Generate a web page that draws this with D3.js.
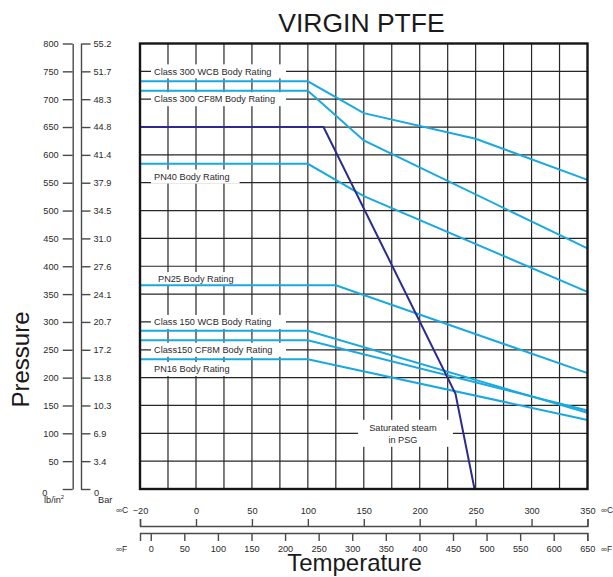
<!DOCTYPE html>
<html>
<head>
<meta charset="utf-8">
<script src="https://cdn.jsdelivr.net/npm/d3@7"></script>
<style>
  html, body { margin: 0; padding: 0; background: #fff; }
  svg { display: block; font-family: "Liberation Sans", Arial, sans-serif; }
</style>
</head>
<body>
<svg id="chart" width="613" height="577"></svg>
<script>
// ---------------- data ----------------
const tempCTicks = [-20, 0, 50, 100, 150, 200, 250, 300, 350];
const tempFTicks = [0, 50, 100, 150, 200, 250, 300, 350, 400, 450, 500, 550, 600, 650];
const psiTicks = [0, 50, 100, 150, 200, 250, 300, 350, 400, 450, 500, 550, 600, 650, 700, 750, 800];
const barLabels = ["0", "3.4", "6.9", "10.3", "13.8", "17.2", "20.7", "24.1", "27.6",
                   "31.0", "34.5", "37.9", "41.4", "44.8", "48.3", "51.7", "55.2"];
const gridTempC = [-10, 0, 25, 50, 75, 100, 125, 150, 175, 200, 225, 250, 275, 300, 325];
const gridPsi = [50, 100, 150, 200, 250, 300, 350, 400, 450, 500, 550, 600, 650, 700, 750];

// series: [temperature °C, pressure psi]
const class300WCB  = [[-20, 732], [100, 732], [150, 675], [250, 629], [350, 555]];
const class300CF8M = [[-20, 715], [100, 715], [150, 626], [350, 432]];
const pn40         = [[-20, 584], [100, 584], [150, 526], [350, 354]];
const pn25         = [[-20, 366], [125, 366], [350, 208]];
const class150WCB  = [[-20, 284], [100, 284], [350, 137]];
const class150CF8M = [[-20, 267], [100, 267], [350, 141]];
const pn16         = [[-20, 233], [100, 233], [350, 124]];
const steamPSG     = [[-20, 650], [114, 650], [232, 171], [249, 0]];

const ratingSeries = [class300WCB, class300CF8M, pn40, pn25, class150WCB, class150CF8M, pn16];

// labels: text, anchor pressure (psi) for vertical position
const ratingLabels = [
  { text: "Class 300 WCB Body Rating", p: 750, wide: true },
  { text: "Class 300 CF8M Body Rating", p: 700, wide: true },
  { text: "PN40 Body Rating", p: 561, wide: false },
  { text: "PN25 Body Rating", p: 377, wide: false, dx: 4 },
  { text: "Class 150 WCB Body Rating", p: 300, wide: true },
  { text: "Class150 CF8M Body Rating", p: 250, wide: true },
  { text: "PN16 Body Rating", p: 215.5, wide: false }
];
const steamLabel = ["Saturated steam", "in PSG"];

// ---------------- layout ----------------
const L = 140, R = 587.5, T = 43.5, B = 489;
const svg = d3.select("#chart");

const xC = d3.scaleLinear().domain([-20, 0, 350]).range([L, 196, R]);
const xF = d3.scaleLinear().domain([-16, 650]).range([L, 587.3]);
const yP = d3.scaleLinear().domain([0, 800]).range([B, T]);

const LIGHT = "#19a9df", DARK = "#2d2a8e", GRID = "#262626", TXT = "#2a2a2a";

// grid
const g = svg.append("g");
g.selectAll("line.h").data(gridPsi).join("line")
  .attr("x1", L).attr("x2", R).attr("y1", d => yP(d)).attr("y2", d => yP(d))
  .attr("stroke", GRID).attr("stroke-width", 1.2);
g.selectAll("line.v").data(gridTempC).join("line")
  .attr("x1", d => xC(d)).attr("x2", d => xC(d)).attr("y1", T).attr("y2", B)
  .attr("stroke", GRID).attr("stroke-width", 1.2);

// label backgrounds + text
const lg = svg.append("g").attr("font-size", 9.2).attr("fill", TXT);
ratingLabels.forEach(lb => {
  const tx = 154 + (lb.dx || 0);
  const ty = yP(lb.p);
  const t = lg.append("text").attr("x", tx).attr("y", ty).attr("dy", "0.35em").text(lb.text);
  const w = t.node().getComputedTextLength();
  lg.insert("rect", "text")
    .attr("x", 151).attr("y", ty - 7)
    .attr("width", lb.wide ? 135 : (tx - 151) + w + 10).attr("height", 14)
    .attr("fill", "#fff");
});
// steam label
const sx = xC(185), sy = yP(100);
lg.append("rect").attr("x", sx - 45).attr("y", sy - 13.5).attr("width", 95).attr("height", 27).attr("fill", "#fff");
lg.append("text").attr("x", sx).attr("y", sy - 6).attr("dy", "0.35em").attr("text-anchor", "middle").text(steamLabel[0]);
lg.append("text").attr("x", sx).attr("y", sy + 6.5).attr("dy", "0.35em").attr("text-anchor", "middle").text(steamLabel[1]);

// series lines
const line = d3.line().x(d => xC(d[0])).y(d => yP(d[1]));
svg.append("g").selectAll("path").data(ratingSeries).join("path")
  .attr("d", line).attr("fill", "none").attr("stroke", LIGHT).attr("stroke-width", 2);
svg.append("path").datum(steamPSG).attr("d", line)
  .attr("fill", "none").attr("stroke", DARK).attr("stroke-width", 2);

// frame
svg.append("rect").attr("x", L).attr("y", T).attr("width", R - L).attr("height", B - T)
  .attr("fill", "none").attr("stroke", "#151515").attr("stroke-width", 2.4);

// ---------------- axes ----------------
function styleAxis(sel) {
  sel.selectAll("path, line").attr("stroke", "#4a4a4a").attr("stroke-width", 1.4);
  sel.selectAll("text").attr("fill", TXT).attr("font-size", 9.2)
     .attr("font-family", "Liberation Sans, Arial, sans-serif");
}
// psi axis
const ap = svg.append("g").attr("transform", "translate(72.7,0)")
  .call(d3.axisLeft(yP).tickValues(psiTicks).tickSize(10).tickSizeOuter(0).tickPadding(4));
styleAxis(ap);
ap.selectAll(".tick").filter(d => d === 0).select("text")
  .attr("x", -30.5).attr("dy", "0.75em").attr("text-anchor", "start");
// bar axis
const ab = svg.append("g").attr("transform", "translate(81,0)")
  .call(d3.axisRight(yP).tickValues(psiTicks).tickSize(9.5).tickSizeOuter(0).tickPadding(3)
        .tickFormat((d, i) => barLabels[i]));
styleAxis(ab);
ab.selectAll(".tick").filter(d => d === 0).select("text")
  .attr("x", 13).attr("dy", "0.7em");

// units under left axes
const ut = svg.append("g").attr("font-size", 9.2).attr("fill", TXT);
const lbt = ut.append("text").attr("x", 44).attr("y", 503);
lbt.append("tspan").text("lb/in");
lbt.append("tspan").attr("font-size", 6).attr("dy", -4).text("2");
ut.append("text").attr("x", 98).attr("y", 502.5).text("Bar");

// °C axis
const ac = svg.append("g").attr("transform", "translate(0,526)")
  .call(d3.axisTop(xC).tickValues(tempCTicks).tickSize(7).tickSizeOuter(7).tickPadding(5));
styleAxis(ac);
// °F axis
const af = svg.append("g").attr("transform", "translate(0,533)")
  .call(d3.axisBottom(xF).tickValues(tempFTicks).tickSize(8).tickSizeOuter(8).tickPadding(4));
styleAxis(af);

ut.append("text").attr("x", 116).attr("y", 510).attr("dy", "0.35em").attr("font-size", 8.5).text("∞C");
ut.append("text").attr("x", 116).attr("y", 549).attr("dy", "0.35em").attr("font-size", 8.5).text("∞F");
ut.append("text").attr("x", 601).attr("y", 510).attr("dy", "0.35em").attr("font-size", 8.5).text("∞C");
ut.append("text").attr("x", 601).attr("y", 549).attr("dy", "0.35em").attr("font-size", 8.5).text("∞F");

// titles
svg.append("text").attr("x", 361.5).attr("y", 31.5).attr("text-anchor", "middle")
  .attr("font-size", 26.5).attr("fill", "#1a1a1a").text("VIRGIN PTFE");
svg.append("text").attr("x", 354.5).attr("y", 571).attr("text-anchor", "middle")
  .attr("font-size", 24).attr("fill", "#1a1a1a").text("Temperature");
svg.append("text").attr("transform", "translate(29,359.5) rotate(-90)").attr("text-anchor", "middle")
  .attr("font-size", 24).attr("fill", "#1a1a1a").text("Pressure");
</script>
</body>
</html>
